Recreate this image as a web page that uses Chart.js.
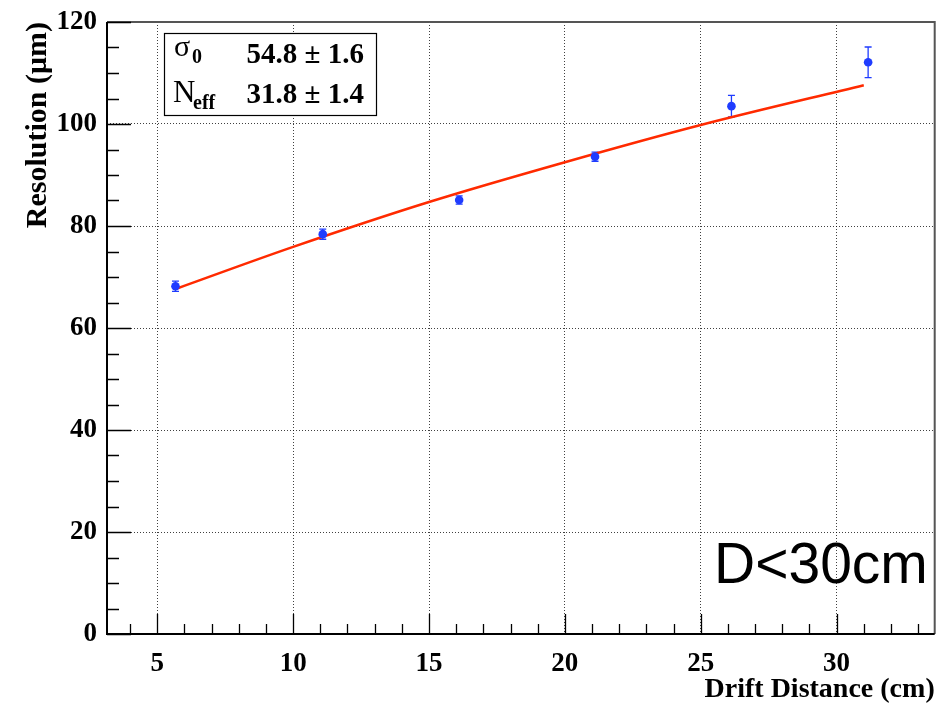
<!DOCTYPE html>
<html>
<head>
<meta charset="utf-8">
<script src="https://cdn.jsdelivr.net/npm/chart.js@4/dist/chart.umd.min.js"></script>
<style>
  html, body { margin: 0; padding: 0; background: #fff; }
  #wrap { width: 939px; height: 703px; position: relative; }
</style>
</head>
<body>
<div id="wrap"><canvas id="c" width="939" height="703"></canvas></div>
<script>
// ---- data ----
const distance   = [5.67, 11.09, 16.11, 21.11, 26.13, 31.16];
const resolution = [68.2, 78.4, 85.1, 93.6, 103.5, 112.1];
const resErr     = [1.0, 1.0, 0.8, 0.9, 2.1, 3.0];

const fitDistance   = [5.7, 10, 15, 20, 25, 31];
const fitResolution = [67.7, 75.9, 84.7, 92.5, 99.8, 107.6];

const xTickValues = [5, 10, 15, 20, 25, 30];
const yTickValues = [0, 20, 40, 60, 80, 100, 120];

const statLabels = ["\u03C3", "N"];
const statSubs   = ["0", "eff"];
const statValues = ["54.8 \u00B1 1.6", "31.8 \u00B1 1.4"];
const annotation = "D<30cm";

const BLUE = '#1f3cff';
const RED = '#ff2a00';

const pointData = distance.map((d, i) => ({x: d, y: resolution[i]}));
const fitData = fitDistance.map((d, i) => ({x: d, y: fitResolution[i]}));

const framePlugin = {
  id: 'frame',
  beforeDatasetsDraw(chart) {
    const {ctx, chartArea: a, scales: {x, y}} = chart;
    ctx.save();
    ctx.strokeStyle = BLUE;
    ctx.lineWidth = 1.3;
    distance.forEach((d, i) => {
      const px = x.getPixelForValue(d);
      const top = y.getPixelForValue(resolution[i] + resErr[i]);
      const bot = y.getPixelForValue(resolution[i] - resErr[i]);
      ctx.beginPath();
      ctx.moveTo(px, top); ctx.lineTo(px, bot);
      ctx.moveTo(px - 3.5, top); ctx.lineTo(px + 3.5, top);
      ctx.moveTo(px - 3.5, bot); ctx.lineTo(px + 3.5, bot);
      ctx.stroke();
    });
    ctx.restore();
  },
  afterDraw(chart) {
    const {ctx, chartArea: a, scales: {x, y}} = chart;
    ctx.save();
    ctx.strokeStyle = '#555';
    ctx.lineWidth = 2;
    ctx.beginPath();
    ctx.moveTo(a.left, a.top); ctx.lineTo(a.right, a.top); ctx.lineTo(a.right, a.bottom);
    ctx.stroke();
    ctx.strokeStyle = '#000';
    ctx.lineWidth = 2;
    ctx.beginPath();
    ctx.moveTo(a.left, a.top); ctx.lineTo(a.left, a.bottom); ctx.lineTo(a.right, a.bottom);
    ctx.stroke();
    ctx.lineWidth = 1.3;
    ctx.beginPath();
    for (let v = Math.ceil(x.min); v <= x.max; v++) {
      const px = Math.round(x.getPixelForValue(v)) + 0.5;
      const len = (v % 5 === 0) ? 20 : 10;
      ctx.moveTo(px, a.bottom); ctx.lineTo(px, a.bottom - len);
    }
    for (let v = 0; v <= y.max; v += 5) {
      const py = Math.round(y.getPixelForValue(v)) + 0.5;
      const len = (v % 20 === 0) ? 24 : 12;
      ctx.moveTo(a.left, py); ctx.lineTo(a.left + len, py);
    }
    ctx.stroke();

    const bx = 164, by = 33, bw = 212, bh = 82;
    ctx.fillStyle = '#fff';
    ctx.fillRect(bx, by, bw, bh);
    ctx.strokeStyle = '#000';
    ctx.lineWidth = 1.2;
    ctx.strokeRect(bx + 0.5, by + 0.5, bw, bh);
    ctx.fillStyle = '#000';
    ctx.textBaseline = 'alphabetic';
    const baselines = [63, 103];
    ctx.textAlign = 'left';
    ctx.font = '30px "Liberation Serif", "Times New Roman", serif';
    ctx.fillText(statLabels[0], 174, 56);
    ctx.font = 'bold 20px "Liberation Serif", "Times New Roman", serif';
    ctx.fillText(statSubs[0], 192, 63);
    ctx.font = '31px "Liberation Serif", "Times New Roman", serif';
    ctx.fillText(statLabels[1], 173, 102);
    ctx.font = 'bold 20px "Liberation Serif", "Times New Roman", serif';
    ctx.fillText(statSubs[1], 193, 109);
    ctx.textAlign = 'right';
    ctx.font = 'bold 29px "Liberation Serif", "Times New Roman", serif';
    ctx.fillText(statValues[0], 364, baselines[0]);
    ctx.fillText(statValues[1], 364, baselines[1]);

    ctx.textAlign = 'left';
    ctx.font = '57px "Liberation Sans", Arial, sans-serif';
    ctx.fillText(annotation, 714, 583);
    ctx.restore();
  }
};

new Chart(document.getElementById('c'), {
  type: 'scatter',
  data: {
    datasets: [
      {
        label: 'fit',
        data: fitData,
        showLine: true,
        borderColor: RED,
        borderWidth: 2.5,
        pointRadius: 0,
        cubicInterpolationMode: 'monotone',
        order: 2
      },
      {
        label: 'data',
        data: pointData,
        showLine: false,
        backgroundColor: BLUE,
        borderColor: BLUE,
        pointRadius: 4.3,
        pointBorderWidth: 0,
        order: 1
      }
    ]
  },
  options: {
    responsive: false,
    animation: false,
    events: [],
    layout: { padding: { top: 22, right: 1, left: 0, bottom: 0 } },
    plugins: { legend: { display: false }, tooltip: { enabled: false } },
    scales: {
      x: {
        type: 'linear',
        min: 3.15,
        max: 33.61,
        afterBuildTicks: s => { s.ticks = xTickValues.map(v => ({value: v})); },
        afterFit: s => { s.height = 69; s.paddingLeft = 0; s.paddingRight = 0; },
        grid: { display: true, drawTicks: false, color: 'rgba(0,0,0,0.75)', lineWidth: 1 },
        border: { display: false, dash: [1, 2] },
        ticks: {
          padding: 14,
          color: '#000',
          font: { family: '"Liberation Serif", "Times New Roman", serif', size: 27, weight: 'bold' },
          maxRotation: 0
        },
        title: {
          display: true,
          text: 'Drift Distance (cm)',
          align: 'end',
          color: '#000',
          padding: { top: 0, bottom: -4 },
          font: { family: '"Liberation Serif", "Times New Roman", serif', size: 28, weight: 'bold' }
        }
      },
      y: {
        type: 'linear',
        min: 0,
        max: 120,
        afterBuildTicks: s => { s.ticks = yTickValues.map(v => ({value: v})); },
        afterFit: s => { s.width = 107; s.paddingTop = 0; s.paddingBottom = 0; },
        grid: { display: true, drawTicks: false, color: 'rgba(0,0,0,0.75)', lineWidth: 1 },
        border: { display: false, dash: [1, 2] },
        ticks: {
          padding: 10,
          color: '#000',
          font: { family: '"Liberation Serif", "Times New Roman", serif', size: 27, weight: 'bold' }
        },
        title: {
          display: true,
          text: 'Resolution (\u03BCm)',
          align: 'end',
          color: '#000',
          padding: { top: 20, bottom: 0 },
          font: { family: '"Liberation Serif", "Times New Roman", serif', size: 30, weight: 'bold' }
        }
      }
    }
  },
  plugins: [framePlugin]
});
</script>
</body>
</html>
